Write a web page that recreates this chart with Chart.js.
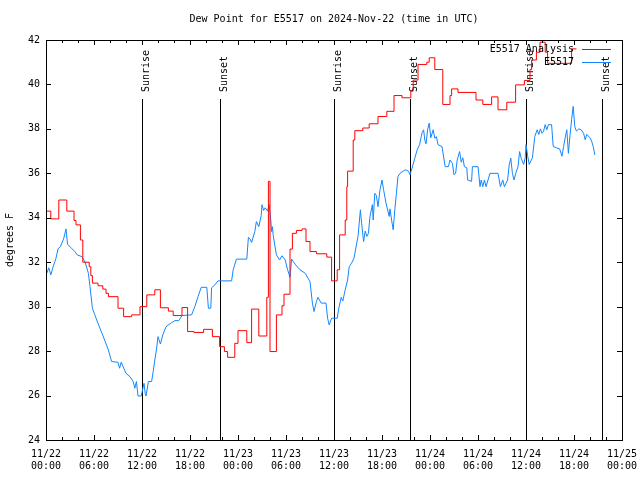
<!DOCTYPE html>
<html>
<head>
<meta charset="utf-8">
<title>Dew Point for E5517</title>
<script src="https://cdn.jsdelivr.net/npm/chart.js@4.4.0/dist/chart.umd.min.js"></script>
<style>
  html, body { margin: 0; padding: 0; background: #ffffff; }
  #wrap { width: 640px; height: 480px; }
</style>
</head>
<body>
<div id="wrap"><canvas id="dewChart" width="640" height="480"></canvas></div>
<script>
// hours since 11/22 00:00 UTC
const xDateLabels = ["11/22", "11/22", "11/22", "11/22", "11/23", "11/23", "11/23", "11/23", "11/24", "11/24", "11/24", "11/24", "11/25"];
const xTimeLabels = ["00:00", "06:00", "12:00", "18:00", "00:00", "06:00", "12:00", "18:00", "00:00", "06:00", "12:00", "18:00", "00:00"];

const sunHours = [12, 21.75, 36, 45.5, 60, 69.5];
const sunLabels = ["Sunrise", "Sunset", "Sunrise", "Sunset", "Sunrise", "Sunset"];

// E5517 Analysis (step values, hour when value starts)
const analysisHours = [0, 0.6, 1.6, 2.6, 3.5, 3.75, 4.3, 4.6, 5.4, 5.6, 5.8, 6.5, 7.1, 7.5, 7.8, 9.0, 9.7, 10.7, 11.75, 12.6,
  13.6, 14.3, 15.3, 15.9, 17.0, 17.7, 18.5, 19.7, 20.8, 21.7, 22.3, 22.7, 23.6, 24.0, 25.1, 25.7, 26.6, 27.6, 27.8, 28.0,
  28.8, 29.5, 29.75, 30.5, 30.8, 31.3, 32.0, 32.5, 33.0, 33.8, 35.1, 35.7, 36.4, 36.7, 37.4, 37.6, 37.7, 38.4, 38.6, 39.6,
  40.4, 41.5, 42.6, 43.5, 44.5, 45.6, 45.9, 46.5, 47.6, 47.9, 48.6, 49.6, 50.5, 50.7, 51.5, 53.75, 54.6, 55.7, 56.5, 57.6,
  58.7, 59.8, 60.5, 60.7, 61.3, 61.75, 62.4, 62.7, 65.7, 66.3];
const analysisValues = [34.3, 33.95, 34.8, 34.3, 33.88, 33.68, 33.0, 32.0, 31.8, 31.4, 31.06, 30.94, 30.79, 30.6, 30.45, 29.93, 29.55, 29.63, 30.0, 30.53,
  30.76, 29.95, 29.8, 29.6, 29.96, 28.88, 28.84, 28.98, 28.65, 28.2, 27.98, 27.72, 28.35, 28.92, 28.38, 29.89, 28.68, 30.42, 35.64, 27.98,
  29.63, 30.04, 30.56, 32.59, 33.3, 33.43, 33.5, 32.93, 32.48, 32.38, 32.23, 31.16, 31.66, 33.23, 33.9, 35.4, 36.1, 37.5, 37.92, 38.04,
  38.23, 38.56, 38.79, 39.5, 39.4, 39.7, 40.2, 40.9, 41.0, 41.2, 40.67, 39.1, 39.5, 39.8, 39.64, 39.3, 39.1, 39.44, 38.86, 39.2,
  39.98, 40.18, 40.67, 41.1, 41.45, 41.9, 41.45, 40.95, 41.6, 41.6];

// E5517 station observations
const stationHours = [0.1, 0.35, 0.6, 0.9, 1.25, 1.5, 1.8, 2.2, 2.5, 2.7, 3.2, 3.6, 3.9, 4.5, 4.9, 5.3, 5.5, 5.8, 6.1, 6.5,
  7.0, 7.4, 7.8, 8.2, 9.0, 9.2, 9.4, 10.0, 10.5, 10.9, 11.1, 11.3, 11.5, 11.9, 12.25, 12.4, 12.5, 12.8, 13.2, 13.4,
  13.6, 13.8, 14.0, 14.3, 14.6, 15.0, 15.7, 16.1, 16.6, 17.0, 18.2, 18.6, 19.0, 19.4, 20.1, 20.3, 20.6, 20.7, 21.1, 21.5,
  23.2, 23.4, 23.8, 25.1, 25.3, 25.5, 25.7, 26.1, 26.3, 26.6, 26.9, 27.0, 27.2, 27.4, 27.7, 27.9, 28.1, 28.2, 28.3, 28.4,
  28.8, 29.2, 29.5, 29.9, 30.2, 30.5, 30.7, 31.2, 31.75, 32.4, 33.0, 33.3, 33.5, 33.8, 34.0, 34.4, 35.0, 35.2, 35.4, 35.7,
  36.4, 36.6, 36.9, 37.1, 37.4, 37.7, 37.9, 38.2, 38.5, 38.8, 39.0, 39.3, 39.45, 39.7, 39.9, 40.1, 40.3, 40.5, 40.8, 40.9,
  41.1, 41.3, 41.5, 41.75, 42.0, 42.2, 42.5, 42.9, 43.0, 43.2, 43.4, 43.6, 43.8, 44.0, 44.25, 44.9, 45.3, 45.5, 45.75, 46.1,
  46.4, 46.7, 47.0, 47.2, 47.35, 47.5, 47.7, 47.9, 48.1, 48.4, 48.6, 48.8, 49.0, 49.5, 49.9, 50.3, 50.5, 50.8, 51.0, 51.2,
  51.4, 51.7, 51.9, 52.1, 52.3, 52.6, 52.7, 53.2, 53.3, 54.0, 54.25, 54.4, 54.6, 54.8, 55.0, 55.5, 56.5, 56.8, 57.1, 57.3,
  57.7, 57.9, 58.1, 58.3, 58.5, 58.7, 59.0, 59.2, 59.4, 59.7, 59.9, 60.0, 60.2, 60.4, 60.8, 61.1, 61.4, 61.6, 61.8, 62.0,
  62.2, 62.4, 62.6, 62.8, 63.2, 63.4, 63.8, 64.2, 64.5, 64.7, 64.9, 65.1, 65.3, 65.5, 65.7, 65.9, 66.1, 66.3, 66.6, 66.9,
  67.2, 67.4, 67.6, 68.0, 68.2, 68.4, 68.6];
const stationValues = [31.5, 31.75, 31.43, 31.8, 32.18, 32.6, 32.7, 33.05, 33.5, 32.8, 32.63, 32.48, 32.33, 32.25, 32.0, 31.5, 30.9, 29.93, 29.63, 29.25,
  28.8, 28.43, 28.05, 27.53, 27.5, 27.23, 27.5, 27.0, 26.85, 26.63, 26.33, 26.63, 25.98, 25.98, 26.55, 26.1, 25.98, 26.63, 26.63, 27.08,
  27.6, 28.05, 28.65, 28.32, 28.73, 29.1, 29.28, 29.37, 29.37, 29.6, 29.63, 30.0, 30.45, 30.87, 30.87, 29.93, 29.93, 30.85, 30.98, 31.16,
  31.16, 31.66, 32.14, 32.14, 33.12, 33.05, 32.89, 33.38, 33.83, 33.6, 34.1, 34.59, 34.33, 34.45, 34.3, 34.59, 33.9, 33.38, 33.6, 33.2,
  32.33, 32.1, 32.29, 32.1, 31.66, 31.33, 32.14, 31.88, 31.66, 31.5, 31.13, 30.16, 29.78, 30.23, 30.42, 30.16, 30.16, 29.48, 29.18, 29.48,
  29.48, 29.93, 30.42, 30.25, 30.76, 31.2, 31.8, 31.96, 32.18, 32.78, 33.16, 34.36, 33.76, 32.93, 33.4, 33.16, 33.3, 34.06, 34.59, 33.9,
  35.1, 35.0, 34.5, 35.26, 35.7, 35.26, 34.66, 34.06, 34.4, 33.9, 33.46, 34.36, 35.1, 35.86, 36.0, 36.16, 36.1, 35.94, 36.23, 36.68,
  37.06, 37.29, 37.82, 37.96, 37.5, 37.33, 37.96, 38.26, 37.6, 37.96, 37.58, 37.65, 37.29, 37.2, 36.3, 36.3, 36.6, 36.45, 35.94, 36.0,
  36.6, 36.98, 36.5, 36.7, 36.3, 36.25, 35.7, 35.64, 36.3, 36.3, 35.4, 35.7, 35.4, 35.7, 35.4, 36.0, 36.0, 35.4, 35.7, 35.4,
  35.7, 36.38, 36.68, 36.0, 35.7, 35.98, 36.3, 36.98, 36.68, 36.4, 36.7, 37.29, 36.8, 36.4, 36.7, 37.66, 37.96, 37.75, 38.0, 37.8,
  37.9, 38.19, 37.96, 38.19, 38.19, 37.21, 37.15, 37.1, 36.77, 37.21, 37.6, 37.96, 36.9, 37.7, 38.41, 39.01, 38.1, 37.9, 38.0, 37.96,
  37.8, 37.51, 37.75, 37.6, 37.45, 37.21, 36.83];

const seriesNames = ["E5517 Analysis", "E5517"];
const seriesColors = ["#ff0000", "#1286ff"];

const MONO = "'DejaVu Sans Mono', 'Liberation Mono', monospace";

function toPoints(hours, values) {
  return hours.map(function (h, i) { return { x: h, y: values[i] }; });
}

// gnuplot style frame: title, box, inward ticks, sunrise/sunset marks, legend
const gnuplotFrame = {
  id: "gnuplotFrame",
  beforeDatasetsDraw(chart) {
    const ctx = chart.ctx;
    const area = chart.chartArea;
    const xs = chart.scales.x;
    ctx.save();
    ctx.strokeStyle = "#000";
    ctx.lineWidth = 1;
    ctx.fillStyle = "#000";
    ctx.font = "10px " + MONO;
    sunHours.forEach(function (h, i) {
      const px = Math.round(xs.getPixelForValue(h)) + 0.5;
      ctx.beginPath();
      ctx.moveTo(px, 99);
      ctx.lineTo(px, area.bottom);
      ctx.stroke();
      ctx.save();
      ctx.translate(px + 6, 92);
      ctx.rotate(-Math.PI / 2);
      ctx.textAlign = "left";
      ctx.textBaseline = "alphabetic";
      ctx.fillText(sunLabels[i], 0, 0);
      ctx.restore();
    });
    ctx.restore();
  },
  afterDatasetsDraw(chart) {
    const ctx = chart.ctx;
    const area = chart.chartArea;
    const xs = chart.scales.x;
    const ys = chart.scales.y;
    ctx.save();
    ctx.strokeStyle = "#000";
    ctx.fillStyle = "#000";
    ctx.lineWidth = 1;

    // box
    ctx.strokeRect(Math.round(area.left) + 0.5, Math.round(area.top) + 0.5,
      Math.round(area.right - area.left), Math.round(area.bottom - area.top));

    // x ticks every 2 h, longer every 6 h
    ctx.beginPath();
    for (let h = 0; h <= 72; h += 2) {
      const px = Math.round(xs.getPixelForValue(h)) + 0.5;
      const len = h % 6 === 0 ? 5 : 3;
      ctx.moveTo(px, area.bottom);
      ctx.lineTo(px, area.bottom - len);
      ctx.moveTo(px, area.top);
      ctx.lineTo(px, area.top + len);
    }
    // y ticks
    for (let v = 24; v <= 42; v += 2) {
      const py = Math.round(ys.getPixelForValue(v)) + 0.5;
      ctx.moveTo(area.left, py);
      ctx.lineTo(area.left + 5, py);
      ctx.moveTo(area.right, py);
      ctx.lineTo(area.right - 5, py);
    }
    ctx.stroke();

    // title
    ctx.font = "10px " + MONO;
    ctx.textAlign = "center";
    ctx.textBaseline = "middle";
    ctx.fillText("Dew Point for E5517 on 2024-Nov-22 (time in UTC)", (area.left + area.right) / 2, 19);

    // legend
    const legendY = [49, 62];
    seriesNames.forEach(function (name, i) {
      ctx.textAlign = "right";
      ctx.fillStyle = "#000";
      ctx.fillText(name, 574, legendY[i]);
      ctx.strokeStyle = seriesColors[i];
      ctx.beginPath();
      ctx.moveTo(582, legendY[i] + 0.5);
      ctx.lineTo(611, legendY[i] + 0.5);
      ctx.stroke();
    });
    ctx.restore();
  }
};

new Chart(document.getElementById("dewChart"), {
  type: "line",
  data: {
    datasets: [
      {
        label: seriesNames[0],
        data: toPoints(analysisHours, analysisValues),
        borderColor: seriesColors[0],
        borderWidth: 1,
        pointRadius: 0,
        stepped: "before",
        fill: false
      },
      {
        label: seriesNames[1],
        data: toPoints(stationHours, stationValues),
        borderColor: seriesColors[1],
        borderWidth: 1,
        pointRadius: 0,
        tension: 0,
        fill: false
      }
    ]
  },
  options: {
    responsive: false,
    animation: false,
    devicePixelRatio: 1,
    layout: { padding: { top: 40, right: 18, left: 0, bottom: 0 } },
    plugins: {
      legend: { display: false },
      title: { display: false },
      tooltip: { enabled: false }
    },
    scales: {
      x: {
        type: "linear",
        min: 0,
        max: 72,
        grid: { display: false, drawTicks: false },
        border: { display: false },
        ticks: {
          stepSize: 6,
          autoSkip: false,
          maxRotation: 0,
          padding: 8,
          color: "#000",
          font: { family: MONO, size: 10, lineHeight: 1.2 },
          callback: function (value) {
            const i = Math.round(value / 6);
            return [xDateLabels[i], xTimeLabels[i]];
          }
        },
        afterFit: function (scale) {
          scale.height = 40;
          scale.paddingLeft = 0;
          scale.paddingRight = 0;
        }
      },
      y: {
        min: 24,
        max: 42,
        grid: { display: false, drawTicks: false },
        border: { display: false },
        ticks: {
          stepSize: 2,
          padding: 6,
          color: "#000",
          font: { family: MONO, size: 10 }
        },
        title: {
          display: true,
          text: "degrees F",
          color: "#000",
          font: { family: MONO, size: 10 },
          padding: { top: 4, bottom: 0 }
        },
        afterFit: function (scale) {
          scale.width = 46;
          scale.paddingTop = 0;
          scale.paddingBottom = 0;
        }
      }
    }
  },
  plugins: [gnuplotFrame]
});
</script>
</body>
</html>
